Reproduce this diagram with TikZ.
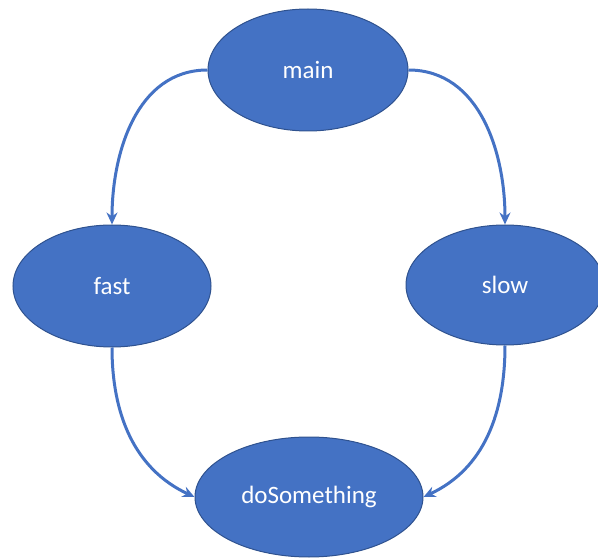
\documentclass[tikz,border=0pt]{standalone}
\usepackage{fontspec}
\setmainfont{Carlito}
\usetikzlibrary{shapes.geometric,arrows.meta}
\definecolor{nodefill}{HTML}{4472C4}
\definecolor{nodeedge}{HTML}{2F528F}
\definecolor{linkblue}{HTML}{4472C4}
\tikzset{
  func/.style={ellipse, fill=nodefill, draw=nodeedge, line width=1pt,
    inner sep=0pt, text=white, font=\fontsize{25}{30}\selectfont},
  link/.style={draw=linkblue, line width=3pt,
    -{Stealth[length=12pt,width=11pt]}}
}
\begin{document}
\begin{tikzpicture}[x=1pt,y=-1pt]
  \useasboundingbox (0,0) rectangle (598,559);
  \clip (0,0) rectangle (598,559);
  \node[func, minimum width=200pt, minimum height=122pt] (main) at (308,70) {main};
  \node[func, minimum width=198pt, minimum height=122pt] (fast) at (112,286) {fast};
  \node[func, minimum width=198pt, minimum height=120pt] (slow) at (505,285) {slow};
  \node[func, minimum width=228pt, minimum height=120pt] (do) at (309,497) {doSomething};
  \draw[link] (main.west) to[out=180,in=90] (fast.north);
  \draw[link] (main.east) to[out=0,in=90] (slow.north);
  \draw[link] (fast.south) to[out=-90,in=155] (do.west);
  \draw[link] (slow.south) to[out=-90,in=25] (do.east);
\end{tikzpicture}
\end{document}
